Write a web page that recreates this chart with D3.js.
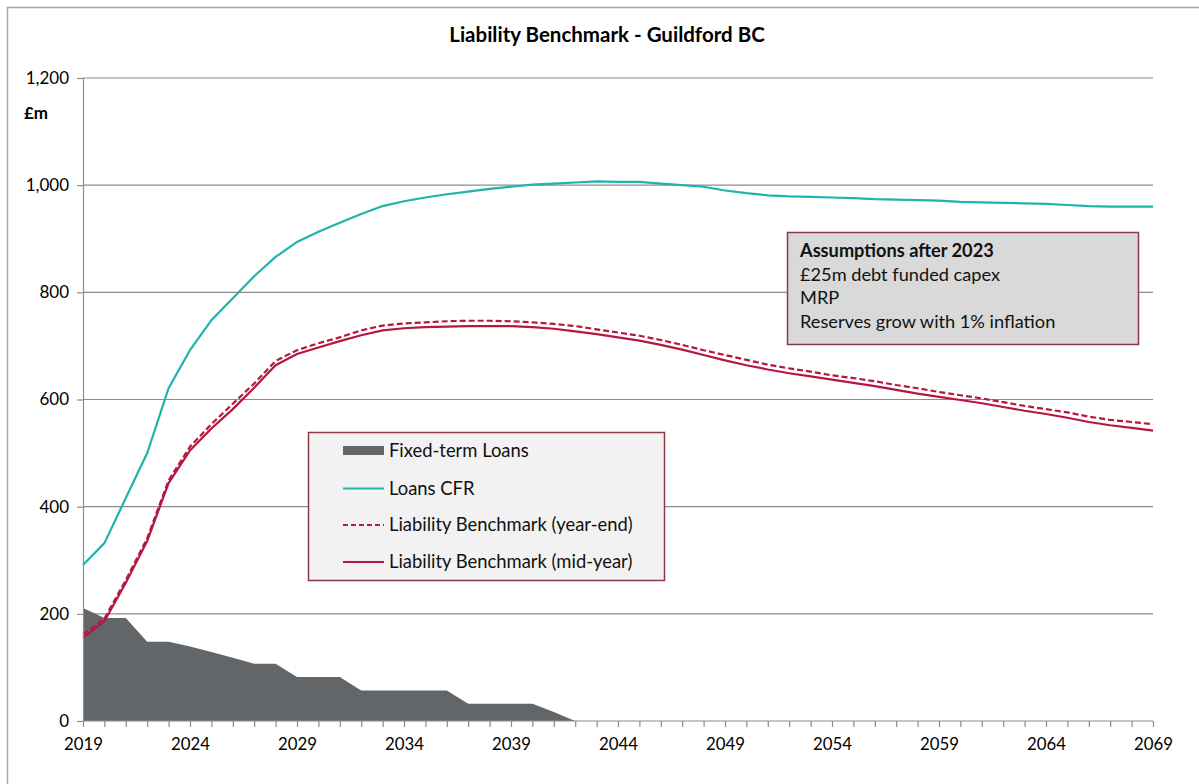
<!DOCTYPE html>
<html><head><meta charset="utf-8">
<script src="https://cdn.jsdelivr.net/npm/d3@7"></script>
<style>body{margin:0;background:#fff;} svg{font-family:Lato,"Noto Sans",sans-serif;}</style>
</head><body><svg id="c" width="1199" height="784"></svg>
<script>
const years = d3.range(2019, 2070);
const fixedYears = [2019,2020,2021,2022,2023,2024,2025,2026,2027,2028,2029,2030,2031,2032,2033,2034,2035,2036,2037,2038,2039,2040,2041,2042];
const fixedLoans = [211,192,192,148,148,139,129,118,107,107,82,82,82,57,57,57,57,57,32,32,32,32,17,0];
const loansCFR = [291,332,416,500,621,692,748,789,830,866,894,913,930,946,961,970,977,983,988,993,997,1001,1003,1005,1007,1006,1006,1003,1000,997,990,985,981,979,978,977,976,974,973,972,971,969,968,967,966,965,963,961,960,960,960];
const lbYearEnd = [161,191,263,341,449,512,554,592,630,672,692,705,716,729,738,742,744,746,747,747,746,744,741,737,731,725,719,711,702,692,683,674,665,658,652,645,640,634,627,621,614,608,602,595,588,582,576,568,562,558,554];
const lbMidYear = [155,186,258,336,444,505,546,582,622,664,685,697,709,720,729,733,735,736,737,737,737,735,732,727,722,716,710,702,693,683,673,664,656,649,643,637,631,625,618,611,605,599,593,586,579,573,566,558,552,547,542];
const yTicks = [0,200,400,600,800,1000,1200];
const xTickLabels = [2019,2024,2029,2034,2039,2044,2049,2054,2059,2064,2069];
const legendLabels = ["Fixed-term Loans","Loans CFR","Liability Benchmark (year-end)","Liability Benchmark (mid-year)"];
const noteLines = ["Assumptions after 2023","£25m debt funded capex","MRP","Reserves grow with 1% inflation"];

const svg = d3.select("#c");
const C = {teal:"#1fb3ae", red:"#b5173f", area:"#636669", grid:"#8c8c8c", box:"#8b3b44"};
const x = d3.scaleLinear().domain([2019,2069]).range([83,1153]);
const y = d3.scaleLinear().domain([0,1200]).range([721,78]);

// frame
svg.append("rect").attr("x",7.5).attr("y",7.5).attr("width",1210).attr("height",800).attr("fill","none").attr("stroke","#a6a6a6").attr("stroke-width",1.5);

// title
svg.append("text").attr("x",607).attr("y",42).attr("text-anchor","middle").attr("font-weight","bold").attr("font-size",20.5).attr("fill","#000").text("Liability Benchmark - Guildford BC");

// gridlines
svg.append("g").selectAll("line").data(yTicks.filter(d=>d>0)).join("line")
  .attr("x1",83).attr("x2",1153).attr("y1",d=>y(d)).attr("y2",d=>y(d))
  .attr("stroke",C.grid).attr("stroke-width",1.2);

// area
const area = d3.area().x((d,i)=>x(fixedYears[i])).y0(y(0)).y1(d=>y(d));
svg.append("path").datum(fixedLoans).attr("d",area).attr("fill",C.area);

// lines
const line = d3.line().x((d,i)=>x(years[i])).y(d=>y(d));
svg.append("path").datum(loansCFR).attr("d",line).attr("fill","none").attr("stroke",C.teal).attr("stroke-width",2.2);
svg.append("path").datum(lbYearEnd).attr("d",line).attr("fill","none").attr("stroke",C.red).attr("stroke-width",2.2).attr("stroke-dasharray","6,3");
svg.append("path").datum(lbMidYear).attr("d",line).attr("fill","none").attr("stroke",C.red).attr("stroke-width",2.2);

// axes
const yAxis = d3.axisLeft(y).tickValues(yTicks).tickSize(6).tickPadding(8).tickFormat(d3.format(","));
const gy = svg.append("g").attr("transform","translate(83,0)").call(yAxis);
gy.select(".domain").attr("stroke",C.grid).attr("stroke-width",1.2);
gy.selectAll(".tick line").attr("stroke",C.grid).attr("stroke-width",1.2);
gy.selectAll("text").attr("font-size",17).attr("fill","#000").attr("font-family","Lato");

const xAxis = d3.axisBottom(x).tickValues(years).tickSize(6).tickPadding(8).tickFormat(d=> xTickLabels.includes(d)? String(d):"");
const gx = svg.append("g").attr("transform","translate(0,721)").call(xAxis);
gx.select(".domain").attr("stroke",C.grid).attr("stroke-width",1.2).attr("d","M83,0H1153");
gx.selectAll(".tick line").attr("stroke",C.grid).attr("stroke-width",1.2);
gx.selectAll("text").attr("font-size",16.8).attr("fill","#000").attr("font-family","Lato").attr("dy","0.9em");

svg.append("text").attr("x",24).attr("y",119).attr("font-weight","bold").attr("font-size",17).text("£m");

// legend
const lg = svg.append("g");
lg.append("rect").attr("x",308.5).attr("y",432.5).attr("width",356).attr("height",148).attr("fill","#f2f2f2").attr("stroke",C.box).attr("stroke-width",1.5);
const rowsY = [450.5,488.5,525,562];
legendLabels.forEach((t,i)=>{
  const cy = rowsY[i];
  if(i===0){
    lg.append("rect").attr("x",343).attr("y",cy-4.5).attr("width",41).attr("height",9).attr("fill",C.area);
  } else {
    lg.append("line").attr("x1",343).attr("x2",384).attr("y1",cy).attr("y2",cy)
      .attr("stroke", i===1?C.teal:C.red).attr("stroke-width",2.2)
      .attr("stroke-dasharray", i===2?"5,3":null);
  }
  lg.append("text").attr("x",389).attr("y",cy).attr("dy","0.35em").attr("font-size",18.4).attr("fill","#111").text(t);
});

// note box
const ng = svg.append("g");
ng.append("rect").attr("x",787.5).attr("y",232.5).attr("width",351).attr("height",112).attr("fill","#d9d9d9").attr("stroke",C.box).attr("stroke-width",1.5);
const noteY = [257,281,304,328];
noteLines.forEach((t,i)=>{
  ng.append("text").attr("x",800).attr("y",noteY[i]).attr("font-size",18.2).attr("fill","#111")
    .attr("font-weight", i===0?"bold":null).text(t);
});
</script></body></html>
